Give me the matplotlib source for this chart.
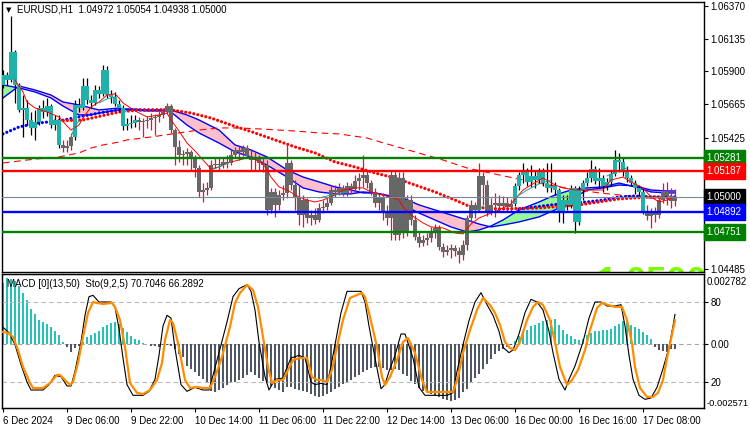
import numpy as np
import matplotlib
matplotlib.use("Agg")
import matplotlib.pyplot as plt

plt.rcParams['font.family'] = ['Liberation Sans', 'DejaVu Sans']

# ---------------- data (EURUSD H1) ----------------
opens = [
1.05803, 1.05875, 1.05839, 1.06040, 1.05803, 1.05624, 1.05638, 1.05552, 1.05495, 1.05538,
1.05638, 1.05609, 1.05652, 1.05516, 1.05552, 1.05373, 1.05351, 1.05366, 1.05430, 1.05660,
1.05638, 1.05796, 1.05695, 1.05674, 1.05767, 1.05739, 1.05911, 1.05731, 1.05717, 1.05667,
1.05638, 1.05509, 1.05523, 1.05531, 1.05552, 1.05538, 1.05545, 1.05552, 1.05566, 1.05574,
1.05588, 1.05609, 1.05652, 1.05480, 1.05359, 1.05301, 1.05305, 1.05323, 1.05287, 1.05208,
1.05036, 1.05050, 1.05065, 1.05229, 1.05237, 1.05229, 1.05251, 1.05244, 1.05301, 1.05337,
1.05323, 1.05351, 1.05294, 1.05265, 1.05280, 1.05244, 1.05229, 1.04907, 1.05036, 1.04943,
1.05014, 1.05029, 1.05244, 1.05086, 1.05000, 1.04871, 1.04978, 1.04849, 1.04871, 1.04835,
1.04921, 1.04928, 1.04957, 1.05050, 1.05036, 1.05065, 1.05029, 1.05079, 1.05057, 1.05115,
1.05136, 1.05158, 1.05100, 1.05036, 1.04957, 1.04993, 1.04892, 1.04849, 1.05158, 1.04728,
1.05136, 1.04742, 1.04978, 1.04835, 1.04713, 1.04670, 1.04692, 1.04706, 1.04749, 1.04778,
1.04642, 1.04606, 1.04620, 1.04634, 1.04613, 1.04584, 1.04656, 1.04849, 1.04943, 1.04907,
1.05151, 1.05086, 1.04885, 1.04943, 1.04957, 1.04935, 1.04957, 1.04928, 1.04950, 1.05079,
1.05158, 1.05179, 1.05108, 1.05151, 1.05122, 1.05187, 1.05100, 1.05065, 1.05079, 1.05050,
1.04892, 1.04978, 1.04943, 1.05065, 1.04821, 1.05050, 1.05100, 1.05136, 1.05201, 1.05115,
1.05136, 1.05079, 1.05108, 1.05165, 1.05265, 1.05251, 1.05194, 1.05136, 1.05100, 1.05065,
1.05036, 1.04900, 1.04864, 1.04885, 1.04871, 1.04978, 1.05036, 1.05007, 1.04972]

highs = [
1.05911, 1.05896, 1.06298, 1.06054, 1.05817, 1.05731, 1.05695, 1.05609, 1.05624, 1.05660,
1.05695, 1.05710, 1.05667, 1.05588, 1.05588, 1.05409, 1.05409, 1.05459, 1.05695, 1.05710,
1.05853, 1.05853, 1.05731, 1.05803, 1.05796, 1.05946, 1.05939, 1.05767, 1.05753, 1.05695,
1.05660, 1.05566, 1.05588, 1.05588, 1.05574, 1.05566, 1.05581, 1.05602, 1.05595, 1.05624,
1.05638, 1.05674, 1.05667, 1.05495, 1.05409, 1.05337, 1.05351, 1.05337, 1.05301, 1.05229,
1.05100, 1.05108, 1.05265, 1.05280, 1.05280, 1.05287, 1.05301, 1.05337, 1.05359, 1.05366,
1.05373, 1.05373, 1.05337, 1.05323, 1.05301, 1.05280, 1.05265, 1.05065, 1.05065, 1.05050,
1.05086, 1.05373, 1.05265, 1.05122, 1.05086, 1.05014, 1.04993, 1.04907, 1.04921, 1.04957,
1.04978, 1.04993, 1.05079, 1.05086, 1.05100, 1.05086, 1.05108, 1.05100, 1.05158, 1.05172,
1.05301, 1.05194, 1.05122, 1.05065, 1.05029, 1.05029, 1.04943, 1.05194, 1.05194, 1.05179,
1.05179, 1.05014, 1.05014, 1.04871, 1.04749, 1.04728, 1.04742, 1.04785, 1.04806, 1.04799,
1.04670, 1.04656, 1.04663, 1.04656, 1.04642, 1.04692, 1.04871, 1.04978, 1.04964, 1.05244,
1.05179, 1.05122, 1.04993, 1.05029, 1.05014, 1.05007, 1.05000, 1.04986, 1.05100, 1.05179,
1.05244, 1.05208, 1.05229, 1.05194, 1.05208, 1.05208, 1.05244, 1.05244, 1.05108, 1.05065,
1.05014, 1.05014, 1.05086, 1.05079, 1.05079, 1.05122, 1.05179, 1.05265, 1.05222, 1.05208,
1.05158, 1.05136, 1.05194, 1.05337, 1.05316, 1.05280, 1.05222, 1.05158, 1.05122, 1.05086,
1.05065, 1.04943, 1.04921, 1.04928, 1.05007, 1.05100, 1.05108, 1.05065, 1.05054]

lows = [
1.05782, 1.05803, 1.05825, 1.05674, 1.05609, 1.05430, 1.05516, 1.05445, 1.05409, 1.05516,
1.05566, 1.05581, 1.05495, 1.05480, 1.05351, 1.05323, 1.05323, 1.05337, 1.05409, 1.05609,
1.05624, 1.05667, 1.05638, 1.05660, 1.05710, 1.05724, 1.05710, 1.05674, 1.05652, 1.05609,
1.05480, 1.05480, 1.05495, 1.05502, 1.05480, 1.05430, 1.05495, 1.05480, 1.05445, 1.05538,
1.05566, 1.05595, 1.05459, 1.05229, 1.05251, 1.05229, 1.05229, 1.05194, 1.05143, 1.05000,
1.04964, 1.05014, 1.05050, 1.05208, 1.05194, 1.05208, 1.05208, 1.05229, 1.05280, 1.05265,
1.05294, 1.05280, 1.05194, 1.05194, 1.05194, 1.05179, 1.04871, 1.04885, 1.04857, 1.04907,
1.04978, 1.04993, 1.05050, 1.04907, 1.04799, 1.04785, 1.04814, 1.04799, 1.04806, 1.04821,
1.04885, 1.04907, 1.04943, 1.05000, 1.05014, 1.05007, 1.05007, 1.05029, 1.05029, 1.05050,
1.05072, 1.05065, 1.05014, 1.04928, 1.04907, 1.04835, 1.04799, 1.04692, 1.04692, 1.04692,
1.04706, 1.04720, 1.04799, 1.04692, 1.04642, 1.04649, 1.04656, 1.04677, 1.04706, 1.04620,
1.04570, 1.04584, 1.04563, 1.04577, 1.04527, 1.04548, 1.04620, 1.04821, 1.04849, 1.04892,
1.04943, 1.04864, 1.04871, 1.04857, 1.04892, 1.04907, 1.04892, 1.04892, 1.04935, 1.05050,
1.05100, 1.05079, 1.05072, 1.05065, 1.05100, 1.05079, 1.05036, 1.05036, 1.05014, 1.04821,
1.04814, 1.04907, 1.04921, 1.04742, 1.04799, 1.04978, 1.05079, 1.05108, 1.05093, 1.05065,
1.05036, 1.05050, 1.05079, 1.05151, 1.05179, 1.05151, 1.05108, 1.05079, 1.05022, 1.05007,
1.04878, 1.04835, 1.04778, 1.04821, 1.04849, 1.04957, 1.04943, 1.04921, 1.04938]

closes = [
1.05875, 1.05839, 1.06040, 1.05803, 1.05624, 1.05638, 1.05552, 1.05495, 1.05538, 1.05638,
1.05609, 1.05652, 1.05516, 1.05552, 1.05373, 1.05351, 1.05366, 1.05430, 1.05660, 1.05638,
1.05796, 1.05695, 1.05674, 1.05767, 1.05739, 1.05911, 1.05731, 1.05717, 1.05667, 1.05638,
1.05509, 1.05523, 1.05531, 1.05552, 1.05538, 1.05545, 1.05552, 1.05566, 1.05574, 1.05588,
1.05609, 1.05652, 1.05480, 1.05359, 1.05301, 1.05305, 1.05323, 1.05287, 1.05208, 1.05036,
1.05050, 1.05065, 1.05229, 1.05237, 1.05229, 1.05251, 1.05244, 1.05301, 1.05337, 1.05323,
1.05351, 1.05294, 1.05265, 1.05280, 1.05244, 1.05229, 1.04907, 1.05036, 1.04943, 1.05014,
1.05029, 1.05244, 1.05086, 1.05000, 1.04871, 1.04978, 1.04849, 1.04871, 1.04835, 1.04921,
1.04928, 1.04957, 1.05050, 1.05036, 1.05065, 1.05029, 1.05079, 1.05057, 1.05115, 1.05136,
1.05158, 1.05100, 1.05036, 1.04957, 1.04993, 1.04892, 1.04849, 1.05158, 1.04728, 1.05136,
1.04742, 1.04978, 1.04835, 1.04713, 1.04670, 1.04692, 1.04706, 1.04749, 1.04778, 1.04642,
1.04606, 1.04620, 1.04634, 1.04613, 1.04584, 1.04656, 1.04849, 1.04943, 1.04907, 1.05151,
1.05086, 1.04885, 1.04943, 1.04957, 1.04935, 1.04957, 1.04928, 1.04950, 1.05079, 1.05158,
1.05179, 1.05108, 1.05151, 1.05122, 1.05187, 1.05100, 1.05065, 1.05079, 1.05050, 1.04892,
1.04978, 1.04943, 1.05065, 1.04821, 1.05050, 1.05100, 1.05136, 1.05201, 1.05115, 1.05136,
1.05079, 1.05108, 1.05165, 1.05265, 1.05251, 1.05194, 1.05136, 1.05100, 1.05065, 1.05036,
1.04900, 1.04864, 1.04885, 1.04871, 1.04978, 1.05036, 1.05007, 1.04972, 1.05000]

# candle colouring state (u = teal bodies / black wicks, d = grey bodies / crimson wicks)
trend_runs = [('u', 15), ('d', 3), ('u', 16), ('d', 94), ('u', 33), ('d', 8)]

# moving-average cloud (two blue lines)
cloud_bars = [0, 4, 8, 12, 15, 19, 22, 24, 29, 32, 36, 39, 42, 46, 49, 54, 58, 62, 66, 71,
              75, 79, 83, 87, 90, 93, 97, 100, 104, 108, 112, 116, 119, 122, 125, 129, 134,
              138, 142, 146, 150, 154, 158, 162, 166, 168]
cloud_fast = [1.05803, 1.05782, 1.05753, 1.05710, 1.05652, 1.05588, 1.05588, 1.05602, 1.05624, 1.05631,
              1.05624, 1.05624, 1.05609, 1.05516, 1.05459, 1.05387, 1.05323, 1.05287, 1.05229, 1.05143,
              1.05065, 1.05036, 1.05022, 1.05022, 1.05036, 1.05029, 1.05000, 1.04943, 1.04885, 1.04835,
              1.04785, 1.04749, 1.04763, 1.04792, 1.04835, 1.04907, 1.04964, 1.05014, 1.05050, 1.05065,
              1.05072, 1.05100, 1.05072, 1.05036, 1.05029, 1.05029]
cloud_slow = [1.05710, 1.05796, 1.05767, 1.05731, 1.05681, 1.05660, 1.05638, 1.05624, 1.05638, 1.05624,
              1.05617, 1.05617, 1.05624, 1.05588, 1.05552, 1.05480, 1.05373, 1.05337, 1.05287, 1.05194,
              1.05143, 1.05108, 1.05072, 1.05050, 1.05029, 1.05029, 1.05007, 1.04993, 1.04943, 1.04907,
              1.04871, 1.04835, 1.04806, 1.04785, 1.04799, 1.04821, 1.04857, 1.04907, 1.04978, 1.05050,
              1.05065, 1.05086, 1.05079, 1.05050, 1.05043, 1.05043]

# dotted moving averages
red_dot_bars = [13, 20, 29, 34, 42, 47, 52, 57, 63, 68, 73, 78, 83, 88, 93, 98, 103, 108, 113,
                117, 124, 134, 144, 154, 162, 168]
red_dot_vals = [1.05545, 1.05552, 1.05609, 1.05624, 1.05624, 1.05602, 1.05566, 1.05516, 1.05459,
                1.05409, 1.05359, 1.05316, 1.05251, 1.05215, 1.05172, 1.05136, 1.05086, 1.05036,
                1.04978, 1.04928, 1.04914, 1.04921, 1.04943, 1.04986, 1.05000, 1.04993]
blue_dot_bars = [0, 4, 9, 14, 19, 24, 29, 34, 41, np.nan, 129, 133, 137, 142, 146, 150, 154, 158, 162, 168]
blue_dot_vals = [1.05452, 1.05502, 1.05531, 1.05545, 1.05574, 1.05602, 1.05624, 1.05624, 1.05624, np.nan,
                 1.04914, 1.04928, 1.04943, 1.04957, 1.04964, 1.04978, 1.05000, 1.05007, 1.05000, 1.05000]

# long dashed moving average
dash_bars = [0, 4, 8, 14, 19, 22, 25, 29, 31, 37, 44, 49, 54, 59, 64, 73, 79, 84, 91, 96, 103,
             110, 116, 124, 130, 139, 149, 159, 168]
dash_vals = [1.05244, 1.05258, 1.05272, 1.05287, 1.05316, 1.05351, 1.05373, 1.05394, 1.05409, 1.05430,
             1.05459, 1.05480, 1.05495, 1.05495, 1.05488, 1.05473, 1.05459, 1.05452, 1.05423, 1.05380,
             1.05323, 1.05265, 1.05208, 1.05158, 1.05122, 1.05072, 1.05029, 1.05000, 1.04978]

# fast thin red moving average
fast_bars = [3, 5, 6, 8, 11, 14, 16, 17, 19, 20, 22, 24, 26, 28, 29, 30, 33, 36, 39, 41,
             42, 44, 46, 48, 50, 52, 54, 56, 58, 62, 65, 66, 67, 69, 71, 74, 76, 78, 80, 83,
             85, 88, 90, 92, 95, 97, 99, 100, 102, 105, 107, 110, 113, 115, 117, 119, 122, 124, 127, 130,
             132, 135, 138, 140, 143, 150, 152, 155, 157, 160, 162, 164, 166, 168]
fast_vals = [1.05839, 1.05753, 1.05681, 1.05638, 1.05609, 1.05574, 1.05509, 1.05480, 1.05516, 1.05566,
             1.05645, 1.05681, 1.05731, 1.05739, 1.05710, 1.05674, 1.05617, 1.05574, 1.05588, 1.05602,
             1.05552, 1.05473, 1.05387, 1.05330, 1.05265, 1.05201, 1.05215, 1.05244, 1.05258, 1.05287,
             1.05237, 1.05194, 1.05143, 1.05072, 1.05050, 1.05000, 1.04978, 1.04964, 1.04978, 1.05014,
             1.05050, 1.05065, 1.05065, 1.05036, 1.05014, 1.05000, 1.04978, 1.04928, 1.04871, 1.04814,
             1.04785, 1.04778, 1.04742, 1.04735, 1.04806, 1.04849, 1.04885, 1.04907, 1.04950, 1.05050,
             1.05086, 1.05136, 1.05086, 1.05065, 1.05050, 1.05050, 1.05122, 1.05143, 1.05108, 1.05065,
             1.05000, 1.04964, 1.04978, 1.05000]

# thin teal line (visible pieces)
teal_bars = [17, 18, 19, np.nan, 24, 26, 28, np.nan, 52, 54, 57, np.nan, 79, 82, 86, np.nan,
             118, 120, np.nan, 128, 131, 134, 137, np.nan, 151, 153, 156]
teal_vals = [1.05430, 1.05509, 1.05545, np.nan, 1.05674, 1.05703, 1.05717, np.nan, 1.05194, 1.05215,
             1.05251, np.nan, 1.04993, 1.05014, 1.05036, np.nan, 1.04878, 1.04935, np.nan, 1.04993,
             1.05050, 1.05093, 1.05122, np.nan, 1.05151, 1.05179, 1.05208]

# horizontal levels
level_vals = [1.05281, 1.05187, 1.05000, 1.04892, 1.04751]
level_cols = ['#008000', '#FF0000', '#778899', '#0000FF', '#008000']
level_box = ['#008000', '#FF0000', '#000000', '#0000FF', '#008000']
level_lw = [1.7, 1.7, 0.8, 1.7, 1.7]

price_ticks = [1.06370, 1.06135, 1.05900, 1.05665, 1.05425, 1.05190, 1.04955, 1.04720, 1.04485]
price_tick_labels = ['1.06370', '1.06135', '1.05900', '1.05665', '1.05425', '', '1.04955', '1.04720', '1.04485']
big_price_text = "1.0500"

# MACD histogram
macd = [
0.00241, 0.00261, 0.00257, 0.00249, 0.00229, 0.00201, 0.00173, 0.00137, 0.00117, 0.00096,
0.00088, 0.00080, 0.00068, 0.00052, 0.00036, 0.00008, -0.00012, -0.00032, -0.00016, -0.00008,
0.00008, 0.00028, 0.00036, 0.00044, 0.00052, 0.00068, 0.00076, 0.00084, 0.00088, 0.00080,
0.00064, 0.00048, 0.00032, 0.00020, 0.00016, 0.00004, -0.00001, -0.00008, -0.00008, -0.00012,
-0.00004, -0.00004, -0.00008, -0.00020, -0.00040, -0.00052, -0.00088, -0.00101, -0.00113, -0.00129,
-0.00141, -0.00153, -0.00189, -0.00193, -0.00185, -0.00177, -0.00165, -0.00157, -0.00153, -0.00145,
-0.00137, -0.00125, -0.00114, -0.00127, -0.00138, -0.00148, -0.00158, -0.00168, -0.00177, -0.00185,
-0.00192, -0.00174, -0.00174, -0.00181, -0.00184, -0.00189, -0.00194, -0.00202, -0.00209, -0.00212,
-0.00209, -0.00201, -0.00192, -0.00181, -0.00174, -0.00162, -0.00154, -0.00145, -0.00134, -0.00126,
-0.00115, -0.00105, -0.00096, -0.00094, -0.00094, -0.00096, -0.00105, -0.00107, -0.00101, -0.00105,
-0.00121, -0.00130, -0.00150, -0.00161, -0.00177, -0.00188, -0.00194, -0.00201, -0.00208, -0.00214,
-0.00221, -0.00225, -0.00228, -0.00225, -0.00217, -0.00194, -0.00181, -0.00157, -0.00137, -0.00121,
-0.00101, -0.00080, -0.00060, -0.00043, -0.00031, -0.00020, -0.00013, -0.00004, 0.00009, 0.00029,
0.00043, 0.00056, 0.00070, 0.00076, 0.00084, 0.00091, 0.00094, 0.00094, 0.00098, 0.00074,
0.00053, 0.00040, 0.00029, 0.00020, 0.00016, 0.00020, 0.00033, 0.00044, 0.00049, 0.00052,
0.00053, 0.00056, 0.00060, 0.00071, 0.00080, 0.00090, 0.00094, 0.00076, 0.00067, 0.00057,
0.00047, 0.00033, 0.00020, -0.00013, -0.00027, -0.00031, -0.00033, -0.00023, -0.00020]

# Stochastic (9,2,5): signal (orange) and main (black)
sto_sig_bars = [0, 1.25, 2.5, 3.75, 5, 6.75, 7.5, 10, 11.75, 13.5, 14.25, 15.5, 16.75, 17.5, 18.75, 20,
                21.25, 22.5, 23.5, 25, 27.25, 28, 29.25, 30.5, 31.75, 33.5, 35, 36.75, 38.5, 39.75,
                40.5, 41.75, 42.5, 43.75, 45.5, 46.75, 48.5, 50, 51.75, 53, 54.75, 56.75, 58, 59.25,
                61, 62.5, 63.75, 65, 66.25, 67.25, 68.5, 70, 71.25, 72.5, 74.25, 76, 77.25, 78.5,
                79.75, 81, 82.25, 83.75, 85, 86.75, 88.5, 89.75, 90.5, 91.75, 93.5, 94.75, 95.5,
                96.75, 98.5, 100, 101.25, 103, 104.75, 106, 108.5, 111, 112.5, 113.75, 115, 116.75,
                118.5, 120, 121.75, 123, 124.25, 125.5, 126.75, 128, 129.25, 131, 132.5, 133.75, 135,
                136.75, 138, 139.25, 141, 142.25, 143.75, 145.5, 146.75, 148.5, 149.75, 151.25, 153,
                154.75, 156, 157.25, 158, 159.25, 161, 162.5, 163.75, 165, 166, 167, 168]
sto_sig_vals = [57.5, 56.8, 53.8, 44.0, 31.3, 19.3, 15.5, 15.5, 19.3, 25.3, 25.3, 21.5, 17.8, 20.0, 34.3,
                53.8, 71.8, 80.0, 79.3, 78.5, 79.3, 76.3, 66.5, 46.3, 19.3, 11.8, 11.0, 14.0, 21.5, 34.3,
                51.5, 66.5, 64.3, 49.3, 21.5, 15.5, 16.3, 15.5, 15.5, 23.8, 38.8, 61.3, 79.3, 86.8, 92.8,
                89.0, 76.3, 53.8, 31.3, 19.3, 21.5, 21.5, 29.0, 36.5, 38.0, 38.0, 23.8, 21.5, 21.5, 20.0,
                29.0, 50.0, 66.5, 83.0, 85.3, 86.8, 83.8, 68.8, 46.3, 23.8, 17.8, 23.8, 36.5, 50.0, 53.0,
                41.8, 21.5, 12.5, 12.5, 12.5, 12.5, 23.8, 41.8, 59.0, 74.0, 83.0, 77.8, 71.8, 62.8, 50.0,
                45.5, 44.0, 50.0, 66.5, 76.3, 80.0, 77.8, 66.5, 50.0, 31.3, 17.8, 21.5, 29.0, 44.0, 59.0,
                75.5, 79.3, 77.8, 76.3, 76.3, 66.5, 49.3, 31.3, 15.5, 8.8, 8.8, 11.8, 21.5, 38.0, 52.0, 66.29]
sto_main_bars = [0, 1.5, 3, 4.5, 6, 7, 10, 11.5, 13, 14.5, 16, 17, 18, 19.5, 20.5, 21.5, 22.5, 24, 27, 28,
                 29, 30, 31, 32.5, 35, 36.5, 38, 39, 40, 41, 42, 43, 44.5, 46, 48, 50, 51.5, 52.5, 54, 56,
                 57.5, 59, 61, 62, 63, 64, 65.5, 66.5, 68, 70, 71, 72, 74, 75.5, 77, 78, 79.5, 81, 82, 83.5,
                 84.5, 86, 88, 89.5, 90.5, 91.5, 93, 94.5, 95.5, 96.5, 98, 99.5, 100.5, 102.5, 104, 105.5,
                 108, 111, 112.5, 113.5, 115, 116.5, 118, 119.5, 121, 122.5, 124, 125, 126.5, 127.5, 129,
                 130.5, 132, 133.5, 135, 136.5, 137.5, 139, 140.5, 141.5, 143, 145, 146.5, 148, 149.5, 151,
                 153, 154.5, 155.5, 156.5, 157.5, 159, 160.5, 162, 163.5, 165, 166.5, 167.5, 168]
sto_main_vals = [61, 57, 48, 33, 20, 14, 14, 18, 25, 24, 17, 17, 28, 50, 70, 84, 85, 80, 80, 76,
                 60, 38, 18, 10, 10, 13, 22, 40, 62, 70, 68, 45, 18, 13, 16, 14, 14, 25, 42, 65,
                 84, 90, 93, 88, 74, 50, 24, 14, 22, 23, 31, 38, 40, 38, 20, 18, 19, 18, 32, 56,
                 72, 88, 88, 88, 80, 62, 38, 15, 18, 28, 40, 56, 56, 38, 16, 10, 10, 10, 12, 28,
                 48, 66, 80, 87, 78, 70, 58, 46, 42, 44, 56, 72, 82, 80, 74, 58, 42, 22, 14, 22,
                 32, 50, 68, 80, 80, 77, 77, 78, 62, 40, 22, 10, 7, 8, 16, 30, 46, 62, 70.7046]

time_tick_bars = [0, 16, 32, 48, 64, 80, 96, 112, 128, 144, 160]
time_tick_labels = ["6 Dec 2024", "9 Dec 06:00", "9 Dec 22:00", "10 Dec 14:00", "11 Dec 06:00",
                    "11 Dec 22:00", "12 Dec 14:00", "13 Dec 06:00", "16 Dec 00:00", "16 Dec 16:00",
                    "17 Dec 08:00"]

title_text = "EURUSD,H1  1.04972 1.05054 1.04938 1.05000"
sub_text = "MACD [0](13,50)  Sto(9,2,5) 70.7046 66.2892"

# ---------------- styling ----------------
TEAL = '#20B2AA'
GRAY = '#676767'
CRIMSON = '#DC143C'
PINK = '#FFC0CB'
LGREEN = '#98FB98'
HPOS = '#26C2B6'
HNEG = '#4E5763'
FS = 7.0

W, H = 750, 430
fig = plt.figure(figsize=(W / 100, H / 100), dpi=100)
fig.patch.set_facecolor('white')


def box(x0, y0, x1, y1):
    return [x0 / W, 1 - y1 / H, (x1 - x0) / W, (y1 - y0) / H]


ax = fig.add_axes(box(2, 2, 704, 272))
sub = fig.add_axes(box(2, 274, 704, 408))
sto = sub.twinx()

XL = (-0.25, 175.25)
for a in (ax, sub):
    a.set_xlim(*XL)
    for s in a.spines.values():
        s.set_color('black')
        s.set_linewidth(1.0)
ax.set_ylim(1.04462, 1.06398)

# ---- main chart ----
cb = np.array(cloud_bars, float)
cf = np.array(cloud_fast)
cs = np.array(cloud_slow)
ax.fill_between(cb, cf, cs, where=cf >= cs, interpolate=True, color=LGREEN, lw=0, zorder=1)
ax.fill_between(cb, cf, cs, where=cf < cs, interpolate=True, color=PINK, lw=0, zorder=1)
ax.plot(cb, cf, color='#0000FF', lw=1.0, zorder=2)
ax.plot(cb, cs, color='#0000FF', lw=1.0, zorder=2)

ax.plot(dash_bars, dash_vals, color='#FF0000', lw=0.8, ls=(0, (6, 4)), zorder=2.2)
ax.plot(blue_dot_bars, blue_dot_vals, color='#0000FF', lw=2.3, ls=(0, (0.01, 1.28)),
        dash_capstyle='round', zorder=2.4)
ax.plot(red_dot_bars, red_dot_vals, color='#FF0000', lw=2.3, ls=(0, (0.01, 1.28)),
        dash_capstyle='round', zorder=2.5)

idx = np.arange(len(closes))
o = np.array(opens)
hi = np.array(highs)
lo = np.array(lows)
c = np.array(closes)
trend = np.array(list(''.join(k * m for k, m in trend_runs)))
for key, body_col, wick_col in (('u', TEAL, 'black'), ('d', GRAY, CRIMSON)):
    m = trend == key
    ax.vlines(idx[m], lo[m], hi[m], colors=wick_col, lw=0.9, zorder=3)
    bot = np.minimum(o, c)[m]
    ht = np.maximum(np.abs(c - o)[m], 0.00007)
    ax.bar(idx[m], ht, bottom=bot, width=0.82, color=body_col, lw=0, zorder=3.5)

ax.plot(fast_bars, fast_vals, color='#FF0000', lw=0.7, zorder=4)
ax.plot(teal_bars, teal_vals, color='#1AA39A', lw=0.7, zorder=4)

for v, col, lw in zip(level_vals, level_cols, level_lw):
    ax.axhline(v, color=col, lw=lw, zorder=6)

# large price read-out of an indicator, mostly hidden below the window edge
ax.text(148.5, 1.04508, big_price_text, fontsize=26, fontweight='bold', color='#7CFC00',
        ha='left', va='top', clip_on=True, zorder=0.5)

ax.yaxis.tick_right()
ax.set_yticks(price_ticks)
ax.set_yticklabels(price_tick_labels)
ax.tick_params(axis='y', direction='out', length=3, width=0.8, pad=1.5, labelsize=FS)
ax.tick_params(axis='x', bottom=False, labelbottom=False)

for v, col in zip(level_vals, level_box):
    ax.annotate(f'{v:.5f}', xy=(1, v), xycoords=('axes fraction', 'data'),
                xytext=(2.0, 0), textcoords='offset points', ha='left', va='center',
                fontsize=FS, color='white', annotation_clip=False, zorder=10,
                bbox=dict(boxstyle='square,pad=0.3', fc=col, ec=col))

# ---- sub window: MACD histogram + stochastic ----
mv = np.array(macd)
sub.bar(idx, mv, width=0.72, color=np.where(mv >= 0, HPOS, HNEG), lw=0, zorder=2)
sub.set_ylim(-0.002571, 0.002782)
sub.axhline(0, color='#A8A8A8', lw=0.8, ls=(0, (4, 3)), zorder=1)
sto.set_ylim(0.5, 101)
for lvl in (80, 20):
    sto.axhline(lvl, color='#B8B8B8', lw=0.8, ls=(0, (4, 3)), zorder=1)
sto.plot(sto_main_bars, sto_main_vals, color='black', lw=0.8, zorder=3)
sto.plot(sto_sig_bars, sto_sig_vals, color='#FF8C00', lw=1.6, zorder=4)

sub.yaxis.tick_right()
sub.set_yticks([0])
sub.set_yticklabels(['0.00'])
sto.set_yticks([20, 80])
sto.set_yticklabels(['20', '80'])
for a in (sub, sto):
    a.tick_params(axis='y', direction='out', length=3, width=0.8, pad=1.5, labelsize=FS)
sub.set_xticks(time_tick_bars)
sub.set_xticklabels(time_tick_labels, ha='left')
sub.tick_params(axis='x', direction='out', length=3, width=0.8, pad=2.5, labelsize=FS)

fig.text(707 / W, 1 - 282 / H, '0.002782', fontsize=FS, va='center', ha='left')
fig.text(707 / W, 1 - 403 / H, '-0.002571', fontsize=6.7, va='center', ha='left')

fig.text(6 / W, 1 - 10 / H, '\u25BC', fontsize=5, va='center', ha='left', family='DejaVu Sans')
fig.text(17 / W, 1 - 10 / H, title_text, fontsize=FS, va='center', ha='left')
fig.text(7 / W, 1 - 284 / H, sub_text, fontsize=FS, va='center', ha='left', zorder=10)

fig.savefig('out.png', dpi=100, facecolor='white')
